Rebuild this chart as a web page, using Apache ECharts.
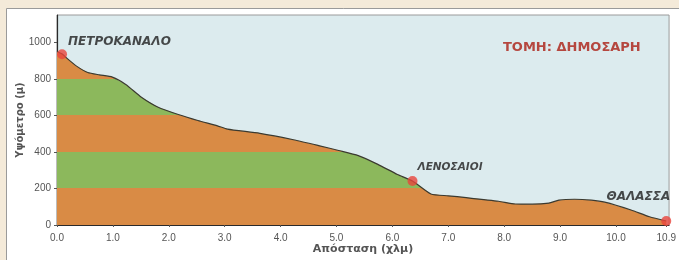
<!DOCTYPE html>
<html>
<head>
<meta charset="utf-8">
<script src="https://cdn.jsdelivr.net/npm/echarts@6/dist/echarts.min.js"></script>
<style>
  html, body { margin: 0; padding: 0; background: #f4ead9; }
  #chart { width: 679px; height: 260px; }
</style>
</head>
<body>
<div id="chart"></div>
<script>
// profile: distance (km) and elevation (m)
let distance = [0.0, 0.1, 0.17, 0.35, 0.55, 0.76, 0.99, 1.23, 1.51, 1.81, 2.17, 2.52, 2.87, 3.05, 3.63, 4.23, 4.68, 5.04, 5.39, 5.74, 6.09, 6.36, 6.69, 7.0, 7.32, 7.9, 8.2, 8.5, 8.8, 8.98, 9.26, 9.56, 9.8, 10.27, 10.6, 10.9];
let elevation = [950, 935, 915, 870, 835, 822, 810, 770, 700, 645, 605, 572, 543, 525, 502, 467, 435, 408, 380, 332, 277, 241, 170, 160, 150, 130, 115, 114, 120, 136, 141, 136, 125, 82, 45, 22];

// named places
let placeNames = ["ΠΕΤΡΟΚΑΝΑΛΟ", "ΛΕΝΟΣΑΙΟΙ", "ΘΑΛΑΣΣΑ"];
let placeDist = [0.09, 6.36, 10.9];
let placeElev = [935, 241, 22];

let xTicks = [0, 1, 2, 3, 4, 5, 6, 7, 8, 9, 10, 10.9];
let yTicks = [0, 200, 400, 600, 800, 1000];

let orange = "#d98b45";
let green = "#8cb85c";

var myChart = echarts.init(document.getElementById('chart'));

let profile = distance.map((d, i) => [d, elevation[i]]);
let places = placeDist.map((d, i) => ({ name: placeNames[i], value: [d, placeElev[i]] }));

// label offsets relative to the dot box (size 10)
let labelPos = [
	{ position: [11, -7], align: 'left', size: 12 },
	{ position: [10, -9], align: 'left', size: 10.5 },
	{ position: [9, -19], align: 'right', size: 12 }
];

option = {
	backgroundColor: '#f4ead9',
	title: {
		text: 'ΤΟΜΗ: ΔΗΜΟΣΑΡΗ',
		left: 498,
		top: 36,
		textStyle: {
			color: '#b5473f',
			fontSize: 13,
			fontWeight: 'bold',
			fontFamily: 'DejaVu Sans'
		}
	},
	graphic: [{
		type: 'rect',
		z: -10,
		shape: { x: 6.5, y: 8.5, width: 700, height: 300 },
		style: { fill: '#ffffff', stroke: '#9a9a9a', lineWidth: 1 }
	}],
	grid: {
		left: 57,
		right: 0,
		top: 15,
		bottom: 31,
		show: true,
		backgroundColor: '#dcebee',
		borderColor: '#9a9a9a',
		borderWidth: 1
	},
	visualMap: {
		type: 'piecewise',
		show: false,
		seriesIndex: 0,
		dimension: 1,
		pieces: [
			{ lt: 200, color: orange },
			{ gte: 200, lt: 400, color: green },
			{ gte: 400, lt: 600, color: orange },
			{ gte: 600, lt: 800, color: green },
			{ gte: 800, color: orange }
		]
	},
	xAxis: {
		type: 'value',
		min: 0,
		max: 10.95,
		name: 'Απόσταση (χλμ)',
		nameLocation: 'middle',
		nameGap: 19,
		nameMoveOverlap: false,
		nameTextStyle: {
			color: '#555',
			fontSize: 11,
			fontWeight: 'bold',
			fontFamily: 'DejaVu Sans'
		},
		splitLine: { show: false },
		axisLine: { lineStyle: { color: '#2a2a2a', width: 1.2 } },
		axisTick: { length: 2, customValues: xTicks, lineStyle: { color: '#555' } },
		axisLabel: {
			customValues: xTicks,
			margin: 8,
			color: '#555',
			fontSize: 10,
			fontFamily: 'Liberation Sans',
			formatter: v => v.toFixed(1)
		}
	},
	yAxis: {
		type: 'value',
		min: 0,
		max: 1150,
		name: 'Υψόμετρο (μ)',
		nameLocation: 'middle',
		nameGap: 32,
		nameMoveOverlap: false,
		nameTextStyle: {
			color: '#555',
			fontSize: 10,
			fontWeight: 'bold',
			fontFamily: 'DejaVu Sans'
		},
		splitLine: { show: false },
		axisLine: { show: true, lineStyle: { color: '#2a2a2a', width: 1.2 } },
		axisTick: { show: true, length: 3, customValues: yTicks, lineStyle: { color: '#555' } },
		axisLabel: {
			customValues: yTicks,
			margin: 6,
			color: '#555',
			fontSize: 10,
			fontFamily: 'Liberation Sans',
			formatter: v => String(v)
		}
	},
	series: [{
		name: 'bands',
		type: 'line',
		data: profile,
		symbol: 'none',
		lineStyle: { width: 0 },
		areaStyle: { opacity: 1 },
		z: 1
	}, {
		name: 'profile',
		type: 'line',
		data: profile,
		symbol: 'none',
		smooth: 0.2,
		lineStyle: { color: '#3b3a30', width: 1.2 },
		z: 2
	}, {
		name: 'places',
		type: 'scatter',
		symbolSize: 10,
		itemStyle: { color: '#e8453c' },
		z: 3,
		data: places.map((p, i) => ({
			name: p.name,
			value: p.value,
			label: {
				show: true,
				formatter: '{b}',
				position: labelPos[i].position,
				align: labelPos[i].align,
				verticalAlign: 'middle',
				color: '#1e1e1e',
				fontSize: labelPos[i].size,
				fontStyle: 'italic',
				fontWeight: 'bold',
				fontFamily: 'DejaVu Sans'
			}
		}))
	}]
};
myChart.setOption(option);
</script>
</body>
</html>
